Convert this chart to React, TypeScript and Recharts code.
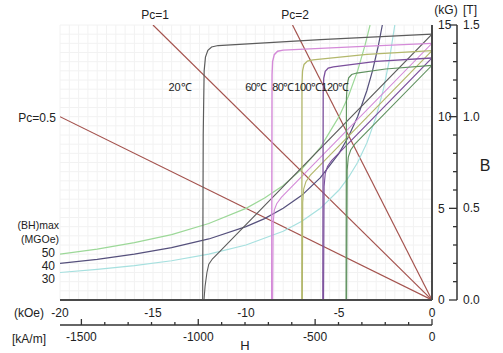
import { LineChart, Line, XAxis, YAxis, CartesianGrid } from 'recharts'

// ─── Data: H in kOe, B in kG ──────────────────────────────────────────────────

type Pt = { h: number; b: number }
const pts = (arr: number[][]): Pt[] => arr.map(([h, b]) => ({ h, b }))

// load lines (permeance coefficient)
const pc05 = pts([[-20, 10], [0, 0]])
const pc1 = pts([[-15, 15], [0, 0]])
const pc2 = pts([[-7.5, 15], [0, 0]])

// (BH)max iso-energy curves
const bh50 = pts([[-20, 2.5], [-18, 2.78], [-16, 3.13], [-14, 3.57], [-12, 4.17], [-10, 5.0], [-9, 5.56], [-8, 6.25], [-7, 7.14], [-6, 8.33], [-5, 10.0], [-4.5, 11.1], [-4, 12.5], [-3.6, 13.9], [-3.33, 15.0]])
const bh40 = pts([[-20, 2.0], [-18, 2.22], [-16, 2.5], [-14, 2.86], [-12, 3.33], [-10, 4.0], [-9, 4.44], [-8, 5.0], [-7, 5.71], [-6, 6.67], [-5, 8.0], [-4.5, 8.89], [-4, 10.0], [-3.5, 11.43], [-3.2, 12.5], [-2.9, 13.8], [-2.67, 15.0]])
const bh30 = pts([[-20, 1.5], [-18, 1.67], [-16, 1.88], [-14, 2.14], [-12, 2.5], [-10, 3.0], [-8, 3.75], [-7, 4.29], [-6, 5.0], [-5, 6.0], [-4.5, 6.67], [-4, 7.5], [-3.5, 8.57], [-3, 10.0], [-2.6, 11.54], [-2.3, 13.04], [-2.0, 15.0]])

// intrinsic curves per temperature
const j20 = pts([[0, 14.5], [-6, 14.2], [-11.5, 13.88], [-11.85, 13.8], [-12.05, 13.62], [-12.18, 13.25], [-12.25, 12.5], [-12.3, 9], [-12.33, 0]])
const j60 = pts([[0, 14.0], [-4, 13.82], [-8.0, 13.63], [-8.3, 13.57], [-8.48, 13.38], [-8.57, 13.0], [-8.6, 12.3], [-8.62, 0]])
const j80 = pts([[0, 13.6], [-3.5, 13.4], [-6.4, 13.1], [-6.7, 13.03], [-6.88, 12.85], [-6.96, 12.5], [-6.99, 11.8], [-7.0, 0]])
const j100 = pts([[0, 13.2], [-3, 13.02], [-5.3, 12.72], [-5.58, 12.65], [-5.74, 12.47], [-5.82, 12.1], [-5.85, 11.4], [-5.87, 0]])
const j120 = pts([[0, 12.8], [-2.5, 12.6], [-4.05, 12.38], [-4.32, 12.3], [-4.48, 12.12], [-4.56, 11.75], [-4.6, 11.0], [-4.62, 0]])

// normal B-H curves per temperature
const n20 = pts([[0, 14.5], [-11.6, 2.45], [-11.8, 2.25], [-12.0, 1.95], [-12.1, 1.5], [-12.2, 0.75], [-12.26, 0]])
const n60 = pts([[0, 14.0], [-8.1, 5.6], [-8.35, 5.25], [-8.48, 4.9], [-8.54, 4.2], [-8.57, 0]])
const n80 = pts([[0, 13.6], [-6.55, 6.8], [-6.78, 6.45], [-6.9, 6.05], [-6.95, 5.3], [-6.97, 0]])
const n100 = pts([[0, 13.2], [-5.4, 7.6], [-5.62, 7.28], [-5.74, 6.9], [-5.8, 6.2], [-5.83, 0]])
const n120 = pts([[0, 12.8], [-4.15, 8.5], [-4.37, 8.18], [-4.5, 7.8], [-4.56, 7.1], [-4.59, 0]])

// axis ticks
const koeLabels = [-20, -15, -10, -5, 0]
const kgLabels = [0, 5, 10, 15]
const teslaTicks = [0, 0.1, 0.2, 0.3, 0.4, 0.5, 0.6, 0.7, 0.8, 0.9, 1.0, 1.1, 1.2, 1.3, 1.4, 1.5]
const kaTicks = [-1500, -1400, -1300, -1200, -1100, -1000, -900, -800, -700, -600, -500, -400, -300, -200, -100, 0]
const KA_PER_KOE = 79.5775

const gridX = Array.from({ length: 41 }, (_, i) => -20 + i * 0.5)
const gridY = Array.from({ length: 31 }, (_, i) => i * 0.5)

// rows for the kA/m scale (the axis needs chart data to build its ticks)
const kaRows = kaTicks.map(ka => ({ ka }))

// ─── Styles ───────────────────────────────────────────────────────────────────

const FONT = '"Liberation Sans", Arial, sans-serif'
const INK = '#222'
const FRAME = '#4a4a4a'

const C = {
  load: '#a4534e',
  t20: '#5c5c5c',
  t60: '#d48ad8',
  t80: '#b3b86c',
  t100: '#7b4f9c',
  t120: '#5f915f',
  bh50: '#9cd898',
  bh40: '#55507c',
  bh30: '#a6e0df',
}

// ─── Custom ticks ─────────────────────────────────────────────────────────────

function TeslaTick({ x, y, payload }: any) {
  const v = payload.value as number
  const major = Math.round(v * 10) % 5 === 0
  return (
    <g>
      <line x1={x - (major ? 8 : 4)} x2={x} y1={y} y2={y} stroke="#333" strokeWidth={1.3} />
      {major && (
        <text x={x + 6} y={y + 4} fontSize={12} fill={INK} fontFamily={FONT}>
          {v.toFixed(1)}
        </text>
      )}
    </g>
  )
}

function KaTick({ x, y, payload }: any) {
  const v = payload.value as number
  const major = v % 500 === 0
  return (
    <g>
      <line x1={x} x2={x} y1={y} y2={y - (major ? 6 : 3)} stroke="#333" strokeWidth={1.3} />
      {major && (
        <text x={x} y={y + 16} fontSize={12} fill={INK} fontFamily={FONT} textAnchor="middle">
          {v}
        </text>
      )}
    </g>
  )
}

function Tag({ x, y, children, size = 12, align = 'center', spacing = 0 }: any) {
  const tx = align === 'center' ? '-50%' : align === 'right' ? '-100%' : '0'
  return (
    <div
      style={{
        position: 'absolute', left: x, top: y, transform: `translate(${tx}, -50%)`,
        fontFamily: FONT, fontSize: size, color: INK, whiteSpace: 'nowrap', lineHeight: 1,
        letterSpacing: spacing,
      }}
    >
      {children}
    </div>
  )
}

const series: [Pt[], string, number][] = [
  [pc05, C.load, 1.2], [pc1, C.load, 1.2], [pc2, C.load, 1.2],
  [bh50, C.bh50, 1.2], [bh40, C.bh40, 1.2], [bh30, C.bh30, 1.2],
  [n20, C.t20, 1.1], [n60, C.t60, 1.1], [n80, C.t80, 1.1], [n100, C.t100, 1.1], [n120, C.t120, 1.1],
  [j20, C.t20, 1.2], [j60, C.t60, 1.4], [j80, C.t80, 1.3], [j100, C.t100, 1.3], [j120, C.t120, 1.2],
]

export default function App() {
  return (
    <div style={{ position: 'absolute', left: 0, top: 0, width: 503, height: 353, background: '#fff', overflow: 'hidden' }}>
      <LineChart width={503} height={353} data={kaRows} margin={{ top: 25, right: 0, bottom: 0, left: 60 }}>
        <CartesianGrid stroke="#f2f2f2" strokeWidth={1} yAxisId="kg" />
        <XAxis
          dataKey="h" type="number" domain={[-20, 0]} allowDataOverflow ticks={gridX} interval={0}
          height={25} tickSize={0} tickMargin={8} tickLine={false}
          axisLine={{ stroke: FRAME, strokeWidth: 2 }}
          tick={{ fontSize: 12, fill: INK, fontFamily: FONT }}
          tickFormatter={(v: number) => (koeLabels.includes(v) ? String(v) : '')}
        />
        <XAxis
          xAxisId="ka" dataKey="ka" type="number" domain={[-20 * KA_PER_KOE, 0]} allowDataOverflow
          ticks={kaTicks} interval={0}
          height={28} tickSize={0} tickMargin={0} tickLine={false}
          axisLine={{ stroke: '#333', strokeWidth: 1.5 }} tick={<KaTick />}
        />
        <XAxis
          xAxisId="top" orientation="top" type="number" domain={[-20, 0]} allowDataOverflow height={0}
          tick={false} tickLine={false} axisLine={{ stroke: FRAME, strokeWidth: 2 }}
        />
        <YAxis
          type="number" domain={[0, 15]} allowDataOverflow width={0}
          tick={false} tickLine={false} axisLine={{ stroke: FRAME, strokeWidth: 2 }}
        />
        <YAxis
          yAxisId="kg" orientation="right" type="number" domain={[0, 15]} allowDataOverflow ticks={gridY} interval={0}
          width={25} tickSize={0} tickMargin={6} tickLine={false}
          axisLine={{ stroke: FRAME, strokeWidth: 2 }}
          tick={{ fontSize: 12, fill: INK, fontFamily: FONT }}
          tickFormatter={(v: number) => (kgLabels.includes(v) ? String(v) : '')}
        />
        <YAxis
          yAxisId="t" orientation="right" type="number" domain={[0, 1.5]} allowDataOverflow ticks={teslaTicks} interval={0}
          width={46} tickSize={0} tickMargin={0} tickLine={false}
          axisLine={{ stroke: '#333', strokeWidth: 1.5 }} tick={<TeslaTick />}
        />
        {series.map(([data, color, w], i) => (
          <Line
            key={i} data={data} dataKey="b" type="linear" stroke={color} strokeWidth={w}
            dot={false} activeDot={false} isAnimationActive={false}
          />
        ))}
      </LineChart>

      {/* annotations */}
      <Tag x={155} y={15}>Pc=1</Tag>
      <Tag x={295} y={15}>Pc=2</Tag>
      <Tag x={56} y={118} align="right">Pc=0.5</Tag>
      <Tag x={180} y={87} size={11}>20℃</Tag>
      <Tag x={256} y={87} size={11} spacing={-0.5}>60℃</Tag>
      <Tag x={283} y={87} size={11} spacing={-0.5}>80℃</Tag>
      <Tag x={308} y={87} size={11} spacing={-0.5}>100℃</Tag>
      <Tag x={335} y={87} size={11} spacing={-0.5}>120℃</Tag>
      <Tag x={446} y={10}>(kG)</Tag>
      <Tag x={470} y={10}>[T]</Tag>
      <Tag x={485} y={166} size={16}>B</Tag>
      <Tag x={59} y={225} size={10.5} align="right">(BH)max</Tag>
      <Tag x={59} y={239} size={10.5} align="right">(MGOe)</Tag>
      <Tag x={55} y={253} size={12} align="right">50</Tag>
      <Tag x={55} y={266} size={12} align="right">40</Tag>
      <Tag x={55} y={279} size={12} align="right">30</Tag>
      <Tag x={29} y={313}>(kOe)</Tag>
      <Tag x={29} y={339}>[kA/m]</Tag>
      <Tag x={245} y={345} size={13}>H</Tag>
    </div>
  )
}
